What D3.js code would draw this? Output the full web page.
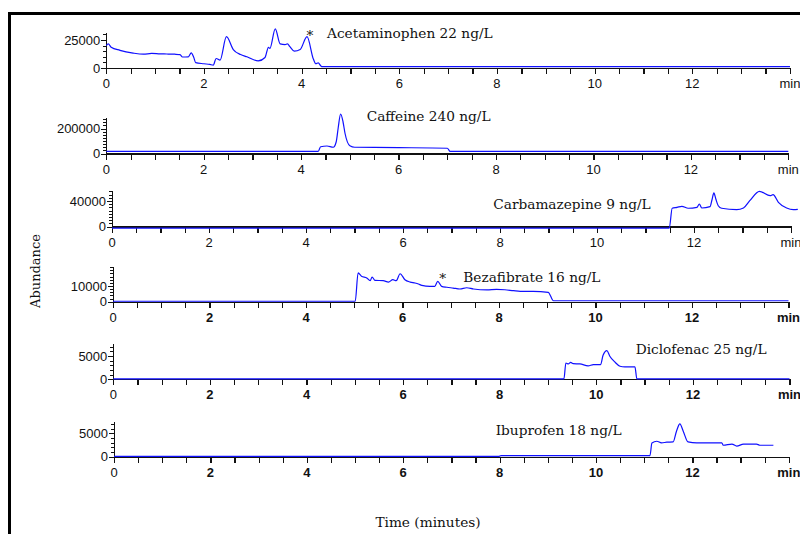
<!DOCTYPE html>
<html>
<head>
<meta charset="utf-8">
<script src="https://cdn.jsdelivr.net/npm/d3@7"></script>
<style>
body { margin: 0; background: #fff; }
svg { display: block; }
.lbl { font-family: "DejaVu Serif", serif; font-size: 13.7px; fill: #111; }
.tk { font-family: "Liberation Sans", Arial, sans-serif; font-size: 13px; fill: #111; }
.axis path, .axis line { stroke: #111; shape-rendering: crispEdges; }
</style>
</head>
<body>
<svg id="chart" width="800" height="534"></svg>
<script>
// [retention time (min), abundance]
var acetaminophen = [[0, 20000], [0.04, 21500], [0.1, 18500], [0.28, 15800], [0.55, 13300], [0.76, 12300],
  [0.93, 13000], [1.1, 12600], [1.24, 12500], [1.4, 12300], [1.51, 12000], [1.56, 9800], [1.68, 10000],
  [1.74, 13500], [1.79, 9500], [1.83, 4800], [2.0, 3800], [2.12, 3200], [2.19, 2600], [2.25, 8500],
  [2.33, 7100], [2.46, 28000], [2.6, 16500], [2.75, 12000], [2.88, 10000], [3.11, 6300], [3.25, 9400],
  [3.32, 18500], [3.35, 17500], [3.46, 35000], [3.56, 21500], [3.66, 20800], [3.71, 21500], [3.76, 19000],
  [3.85, 15000], [3.97, 16500], [4.11, 28000], [4.24, 8000], [4.29, 3800], [4.34, 4600], [4.39, 2000],
  [4.42, 1200], [14, 1200]];
var caffeine = [[0, 17000], [4.35, 17000], [4.40, 54000], [4.53, 60000], [4.66, 50000], [4.72, 94000],
  [4.76, 204000], [4.81, 316000], [4.86, 252000], [4.90, 162000], [5.0, 62000], [5.1, 50000], [6.0, 47000],
  [7.0, 42000], [7.06, 17000], [14, 17000]];
var carbamazepine = [[0, -2500], [11.49, -2500], [11.55, 28600], [11.65, 30000], [11.75, 31700], [11.88, 28600],
  [12.06, 30100], [12.11, 35300], [12.16, 29000], [12.33, 31100], [12.37, 41600], [12.41, 52600], [12.45, 43100],
  [12.5, 32600], [12.57, 28600], [12.88, 26400], [13.02, 29000], [13.15, 40500], [13.35, 55200], [13.57, 48300],
  [13.63, 49900], [13.74, 38000], [13.91, 29000], [14.05, 26400], [14.14, 27000]];
var bezafibrate = [[0, 300], [5.02, 300], [5.08, 18300], [5.15, 16200], [5.26, 15100], [5.33, 13400],
  [5.37, 15700], [5.43, 13600], [5.6, 13400], [5.71, 12500], [5.8, 14000], [5.87, 13400], [5.95, 17800],
  [6.05, 14000], [6.16, 12500], [6.26, 11900], [6.33, 11300], [6.4, 10400], [6.57, 9800], [6.67, 9800],
  [6.73, 13000], [6.81, 9800], [6.92, 9200], [7.05, 8700], [7.19, 8100], [7.33, 8900], [7.47, 8100],
  [7.75, 7500], [7.95, 7800], [8.12, 7600], [8.3, 7000], [8.44, 6600], [8.71, 6600], [9.02, 6000],
  [9.13, 600], [14, 600]];
var diclofenac = [[0, 100], [9.33, 100], [9.37, 3500], [9.42, 3300], [9.47, 3650], [9.52, 3350], [9.66, 3300],
  [9.83, 2900], [9.94, 3150], [10.09, 3150], [10.14, 5150], [10.22, 6150], [10.28, 4950], [10.39, 3650],
  [10.49, 2800], [10.59, 2650], [10.8, 2650], [10.84, 100], [14, 100]];
var ibuprofen = [[0, 50], [7.98, 50], [8.03, 250], [11.12, 250], [11.16, 2950], [11.26, 3300], [11.36, 2950],
  [11.47, 3100], [11.6, 3150], [11.67, 5450], [11.74, 7000], [11.81, 5450], [11.91, 3150], [12.09, 2950],
  [12.61, 2950], [12.64, 2450], [12.82, 2700], [12.92, 2250], [13.06, 2700], [13.33, 2700], [13.4, 2450],
  [13.68, 2450]];

var compounds = ["Acetaminophen 22 ng/L", "Caffeine 240 ng/L", "Carbamazepine 9 ng/L",
  "Bezafibrate 16 ng/L", "Diclofenac 25 ng/L", "Ibuprofen 18 ng/L"];
var series = [acetaminophen, caffeine, carbamazepine, bezafibrate, diclofenac, ibuprofen];
var yLabelValues = [25000, 200000, 40000, 10000, 5000, 5000];
var yMinorSteps = [5000, 25000, 5000, 2000, 1000, 1000];
var xTickValues = [0, 2, 4, 6, 8, 10, 12, 14];
var xTickLabels = ["0", "2", "4", "6", "8", "10", "12", "min"];

// panel placement on the page
var layout = [
  { x0: 106.3, x14: 790,   zero: 68,    ref: 40,    top: 32.3,  lx: 327,   ly: 38,    bold: false, star: [310, 40] },
  { x0: 106.3, x14: 788.3, zero: 153.5, ref: 128.5, top: 117.3, lx: 366.7, ly: 120.7, bold: false },
  { x0: 112,   x14: 791,   zero: 226.5, ref: 201,   top: 190,   lx: 493.3, ly: 209.3, bold: false },
  { x0: 113,   x14: 788.5, zero: 301.7, ref: 286,   top: 266.7, lx: 463.3, ly: 281.7, bold: true, star: [442.7, 283] },
  { x0: 113.3, x14: 789.5, zero: 379.3, ref: 356,   top: 343.3, lx: 635.7, ly: 354.3, bold: true },
  { x0: 114,   x14: 788.8, zero: 456.7, ref: 433.3, top: 421.7, lx: 495.7, ly: 435,   bold: true }
];

var svg = d3.select("#chart");

svg.append("rect").attr("x", 9.5).attr("y", 13.5).attr("width", 800).attr("height", 530)
  .attr("fill", "none").attr("stroke", "#000").attr("stroke-width", 3);

layout.forEach(function(p, i) {
  var x = d3.scaleLinear().domain([0, 14]).range([p.x0, p.x14]);
  var y = d3.scaleLinear().domain([0, yLabelValues[i]]).range([p.zero, p.ref]);
  var yAx = y.copy().domain([0, y.invert(p.top)]).range([p.zero, p.top]);
  var g = svg.append("g");

  g.append("g").attr("class", "axis")
    .attr("transform", "translate(0," + p.zero + ")")
    .call(d3.axisBottom(x).tickValues(d3.range(0, 14.01, 0.5)).tickSize(6).tickSizeOuter(0).tickFormat(""))
    .call(function(s) { s.selectAll("path, line").attr("stroke-width", 1.2); });

  g.selectAll("text.xt").data(xTickValues).enter().append("text")
    .attr("class", "tk")
    .attr("x", function(d) { return x(d); })
    .attr("y", p.zero + 20)
    .attr("text-anchor", "middle")
    .attr("font-weight", function(d) { return p.bold && d > 0 ? "bold" : "normal"; })
    .text(function(d, j) { return xTickLabels[j]; });

  var minor = d3.range(yMinorSteps[i], y.invert(p.top), yMinorSteps[i]);
  g.append("g").attr("class", "axis")
    .attr("transform", "translate(" + x(0) + ",0)")
    .call(d3.axisLeft(yAx).tickValues(minor).tickSize(3).tickSizeOuter(0).tickFormat(""))
    .call(function(s) { s.select(".domain").remove(); });
  g.append("g").attr("class", "axis")
    .attr("transform", "translate(" + x(0) + ",0)")
    .call(d3.axisLeft(yAx).tickValues([0, yLabelValues[i]]).tickSize(5).tickSizeOuter(0).tickFormat(""));

  g.selectAll("text.yt").data([0, yLabelValues[i]]).enter().append("text")
    .attr("class", "tk")
    .attr("x", x(0) - 6)
    .attr("y", function(d) { return y(d); })
    .attr("dy", "0.36em")
    .attr("text-anchor", "end")
    .text(function(d) { return d; });

  var line = d3.line()
    .x(function(d) { return x(d[0]); })
    .y(function(d) { return y(d[1]); })
    .curve(d3.curveMonotoneX);
  g.append("path").datum(series[i])
    .attr("d", line)
    .attr("fill", "none")
    .attr("stroke", "#1010ff")
    .attr("stroke-width", 1.2);

  g.append("text").attr("class", "lbl")
    .attr("x", p.lx).attr("y", p.ly)
    .text(compounds[i]);
  if (p.star) {
    g.append("text").attr("class", "lbl")
      .attr("x", p.star[0]).attr("y", p.star[1])
      .attr("text-anchor", "middle")
      .text("*");
  }
});

svg.append("text").attr("class", "lbl")
  .attr("transform", "translate(40,271) rotate(-90)")
  .attr("text-anchor", "middle")
  .style("font-size", "13px")
  .text("Abundance");
svg.append("text").attr("class", "lbl")
  .attr("x", 428).attr("y", 527)
  .attr("text-anchor", "middle")
  .text("Time (minutes)");
</script>
</body>
</html>
